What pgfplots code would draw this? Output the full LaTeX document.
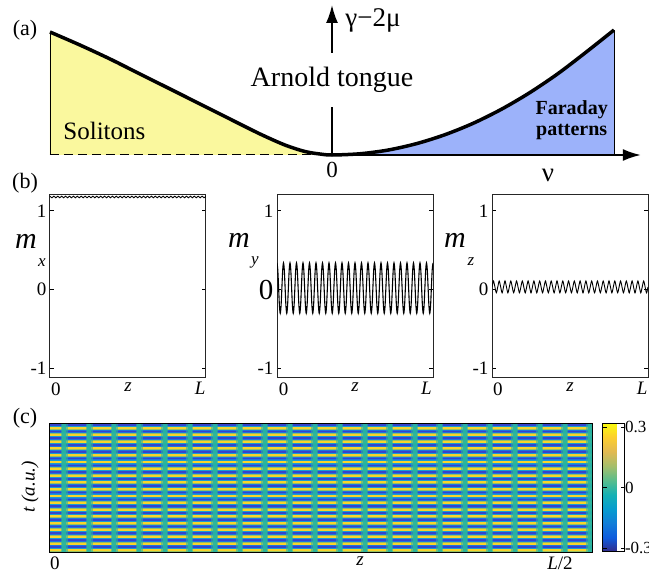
\documentclass[border=0pt]{standalone}
\usepackage{pgfplots}
\pgfplotsset{compat=1.18}
\usepackage{fontspec}
\setmainfont{Liberation Serif}
\usetikzlibrary{arrows.meta}

\newcommand\fs[1]{\fontsize{#1}{#1}\selectfont}

\definecolor{soliton}{RGB}{250,248,158}
\definecolor{faraday}{RGB}{156,178,250}
\definecolor{pyel}{RGB}{248,212,44}
\definecolor{pyeledge}{RGB}{150,192,100}
\definecolor{pblue}{RGB}{52,68,205}
\definecolor{pblueedge}{RGB}{30,115,225}
\definecolor{pback}{RGB}{24,155,212}
\definecolor{pgap}{RGB}{40,180,160}

\pgfplotsset{
  colormap={parula}{rgb255=(53,42,135) rgb255=(15,92,221) rgb255=(18,125,216)
    rgb255=(7,156,207) rgb255=(21,177,180) rgb255=(89,189,140) rgb255=(165,190,107)
    rgb255=(225,185,82) rgb255=(252,206,46) rgb255=(249,251,14)},
  mpanel/.style={
    scale only axis, width=156pt, height=183pt,
    ymin=-1.12, ymax=1.2,
    ytick={-1,0,1}, yticklabels={-1,0,1},
    tick align=inside, major tick length=4pt,
    xtick style={draw=none}, ytick style={black, line width=0.8pt},
    axis line style={black!85, line width=1pt},
    tick label style={font=\fs{19}},
    xticklabel style={yshift=-1pt},
  },
}

\begin{document}
\begin{tikzpicture}
\useasboundingbox (0pt,0pt) rectangle (649pt,-583pt);

% ---------- (a) ----------
\begin{axis}[at={(50pt,-155pt)}, anchor=south west, scale only axis,
  width=564pt, height=125pt, xmin=-1, xmax=1, ymin=0, ymax=1,
  axis lines=none, clip=false]
\addplot[fill=soliton, draw=none, smooth] coordinates {
  (-1,0.984) (-0.894,0.88) (-0.787,0.768) (-0.681,0.648) (-0.574,0.528)
  (-0.468,0.408) (-0.362,0.288) (-0.255,0.168) (-0.167,0.08) (-0.096,0.028)
  (-0.043,0.008) (0,0)} \closedcycle;
\addplot[fill=faraday, draw=none, smooth] coordinates {
  (0,0) (0.1,0.01) (0.2,0.04) (0.3,0.091) (0.4,0.162) (0.5,0.253)
  (0.6,0.365) (0.7,0.497) (0.8,0.649) (0.9,0.821) (1,1)} \closedcycle;
\addplot[black, line width=0.8pt] coordinates {(-1,0) (-1,0.984)};
\addplot[black, line width=0.8pt] coordinates {(1,0) (1,1)};
\addplot[black, line width=1pt, dash pattern=on 9pt off 5pt] coordinates {(-1,0) (0,0)};
\addplot[black, line width=1.8pt, -{Latex[length=18pt,width=12pt]}] coordinates {(0,0) (1.095,0)};
\addplot[black, line width=1.8pt] coordinates {(0,0) (0,0.384)};
\addplot[black, line width=1.8pt, -{Latex[length=18pt,width=12pt]}] coordinates {(0,0.816) (0,1.2)};
\addplot[black, line width=3.5pt, smooth] coordinates {
  (-1,0.984) (-0.894,0.88) (-0.787,0.768) (-0.681,0.648) (-0.574,0.528)
  (-0.468,0.408) (-0.362,0.288) (-0.255,0.168) (-0.167,0.08) (-0.096,0.028)
  (-0.043,0.008) (0,0)
  (0.1,0.01) (0.2,0.04) (0.3,0.091) (0.4,0.162) (0.5,0.253)
  (0.6,0.365) (0.7,0.497) (0.8,0.649) (0.9,0.821) (1,1)};
\node[font=\fs{28}] at (axis cs:0,0.6) {Arnold tongue};
\node[font=\fs{27}, anchor=west] at (axis cs:0.035,1.08) {γ−2μ};
\node[font=\fs{25}, anchor=west] at (axis cs:-0.965,0.19) {Solitons};
\node[font=\fs{20}\bfseries, align=center] at (axis cs:0.85,0.28) {Faraday\\[1pt]patterns};
\node[font=\fs{23}] at (axis cs:0,-0.12) {0};
\node[font=\fs{27}] at (axis cs:0.766,-0.16) {ν};
\end{axis}
\node[font=\fs{22}] at (25pt,-30pt) {(a)};

% ---------- (b) ----------
\node[font=\fs{22}] at (25pt,-183pt) {(b)};
\begin{axis}[mpanel, at={(50pt,-195pt)}, anchor=north west,
  xmin=0, xmax=80, xtick={3,40,77}, xticklabels={0,\textit{z},\textit{L}}]
\addplot[black, line width=0.9pt, smooth] coordinates {
  (0,1.185)(1,1.165)(2,1.185)(3,1.165)(4,1.185)(5,1.165)(6,1.185)(7,1.165)(8,1.185)(9,1.165)
  (10,1.185)(11,1.165)(12,1.185)(13,1.165)(14,1.185)(15,1.165)(16,1.185)(17,1.165)(18,1.185)(19,1.165)
  (20,1.185)(21,1.165)(22,1.185)(23,1.165)(24,1.185)(25,1.165)(26,1.185)(27,1.165)(28,1.185)(29,1.165)
  (30,1.185)(31,1.165)(32,1.185)(33,1.165)(34,1.185)(35,1.165)(36,1.185)(37,1.165)(38,1.185)(39,1.165)
  (40,1.185)(41,1.165)(42,1.185)(43,1.165)(44,1.185)(45,1.165)(46,1.185)(47,1.165)(48,1.185)(49,1.165)
  (50,1.185)(51,1.165)(52,1.185)(53,1.165)(54,1.185)(55,1.165)(56,1.185)(57,1.165)(58,1.185)(59,1.165)
  (60,1.185)(61,1.165)(62,1.185)(63,1.165)(64,1.185)(65,1.165)(66,1.185)(67,1.165)(68,1.185)(69,1.165)
  (70,1.185)(71,1.165)(72,1.185)(73,1.165)(74,1.185)(75,1.165)(76,1.185)(77,1.165)(78,1.185)(79,1.165)
  (80,1.185)};
\end{axis}
\node[font=\fs{30}\itshape] at (26pt,-241pt) {m};
\node[font=\fs{17}\itshape] at (42pt,-263pt) {x};

\begin{axis}[mpanel, at={(277pt,-195pt)}, anchor=north west,
  xmin=0, xmax=192, xtick={8,96,184}, xticklabels={0,\textit{z},\textit{L}},
  yticklabels={-1,{\fs{29}0},1}]
\addplot[black, line width=1.1pt, smooth] coordinates {
  (0,.34)(1,.246)(2,.02)(3,-.206)(4,-.3)(5,-.206)(6,.02)(7,.246)
  (8,.34)(9,.246)(10,.02)(11,-.206)(12,-.3)(13,-.206)(14,.02)(15,.246)
  (16,.34)(17,.246)(18,.02)(19,-.206)(20,-.3)(21,-.206)(22,.02)(23,.246)
  (24,.34)(25,.246)(26,.02)(27,-.206)(28,-.3)(29,-.206)(30,.02)(31,.246)
  (32,.34)(33,.246)(34,.02)(35,-.206)(36,-.3)(37,-.206)(38,.02)(39,.246)
  (40,.34)(41,.246)(42,.02)(43,-.206)(44,-.3)(45,-.206)(46,.02)(47,.246)
  (48,.34)(49,.246)(50,.02)(51,-.206)(52,-.3)(53,-.206)(54,.02)(55,.246)
  (56,.34)(57,.246)(58,.02)(59,-.206)(60,-.3)(61,-.206)(62,.02)(63,.246)
  (64,.34)(65,.246)(66,.02)(67,-.206)(68,-.3)(69,-.206)(70,.02)(71,.246)
  (72,.34)(73,.246)(74,.02)(75,-.206)(76,-.3)(77,-.206)(78,.02)(79,.246)
  (80,.34)(81,.246)(82,.02)(83,-.206)(84,-.3)(85,-.206)(86,.02)(87,.246)
  (88,.34)(89,.246)(90,.02)(91,-.206)(92,-.3)(93,-.206)(94,.02)(95,.246)
  (96,.34)(97,.246)(98,.02)(99,-.206)(100,-.3)(101,-.206)(102,.02)(103,.246)
  (104,.34)(105,.246)(106,.02)(107,-.206)(108,-.3)(109,-.206)(110,.02)(111,.246)
  (112,.34)(113,.246)(114,.02)(115,-.206)(116,-.3)(117,-.206)(118,.02)(119,.246)
  (120,.34)(121,.246)(122,.02)(123,-.206)(124,-.3)(125,-.206)(126,.02)(127,.246)
  (128,.34)(129,.246)(130,.02)(131,-.206)(132,-.3)(133,-.206)(134,.02)(135,.246)
  (136,.34)(137,.246)(138,.02)(139,-.206)(140,-.3)(141,-.206)(142,.02)(143,.246)
  (144,.34)(145,.246)(146,.02)(147,-.206)(148,-.3)(149,-.206)(150,.02)(151,.246)
  (152,.34)(153,.246)(154,.02)(155,-.206)(156,-.3)(157,-.206)(158,.02)(159,.246)
  (160,.34)(161,.246)(162,.02)(163,-.206)(164,-.3)(165,-.206)(166,.02)(167,.246)
  (168,.34)(169,.246)(170,.02)(171,-.206)(172,-.3)(173,-.206)(174,.02)(175,.246)
  (176,.34)(177,.246)(178,.02)(179,-.206)(180,-.3)(181,-.206)(182,.02)(183,.246)
  (184,.34)(185,.246)(186,.02)(187,-.206)(188,-.3)(189,-.206)(190,.02)(191,.246)
  (192,.34)};
\end{axis}
\node[font=\fs{30}\itshape] at (239pt,-240pt) {m};
\node[font=\fs{17}\itshape] at (255pt,-262pt) {y};

\begin{axis}[mpanel, at={(492pt,-195pt)}, anchor=north west,
  xmin=0, xmax=108, xtick={4,54,104}, xticklabels={0,\textit{z},\textit{L}}]
\addplot[black, line width=0.9pt, smooth] coordinates {
  (0,.035)(1,.11)(2,.035)(3,-.04)(4,.035)(5,.11)(6,.035)(7,-.04)(8,.035)(9,.11)(10,.035)(11,-.04)
  (12,.035)(13,.11)(14,.035)(15,-.04)(16,.035)(17,.11)(18,.035)(19,-.04)(20,.035)(21,.11)(22,.035)(23,-.04)
  (24,.035)(25,.11)(26,.035)(27,-.04)(28,.035)(29,.11)(30,.035)(31,-.04)(32,.035)(33,.11)(34,.035)(35,-.04)
  (36,.035)(37,.11)(38,.035)(39,-.04)(40,.035)(41,.11)(42,.035)(43,-.04)(44,.035)(45,.11)(46,.035)(47,-.04)
  (48,.035)(49,.11)(50,.035)(51,-.04)(52,.035)(53,.11)(54,.035)(55,-.04)(56,.035)(57,.11)(58,.035)(59,-.04)
  (60,.035)(61,.11)(62,.035)(63,-.04)(64,.035)(65,.11)(66,.035)(67,-.04)(68,.035)(69,.11)(70,.035)(71,-.04)
  (72,.035)(73,.11)(74,.035)(75,-.04)(76,.035)(77,.11)(78,.035)(79,-.04)(80,.035)(81,.11)(82,.035)(83,-.04)
  (84,.035)(85,.11)(86,.035)(87,-.04)(88,.035)(89,.11)(90,.035)(91,-.04)(92,.035)(93,.11)(94,.035)(95,-.04)
  (96,.035)(97,.11)(98,.035)(99,-.04)(100,.035)(101,.11)(102,.035)(103,-.04)(104,.035)(105,.11)(106,.035)(107,-.04)
  (108,.035)};
\end{axis}
\node[font=\fs{30}\itshape] at (455pt,-240pt) {m};
\node[font=\fs{17}\itshape] at (471pt,-262pt) {z};

% ---------- (c) ----------
\node[font=\fs{22}] at (25pt,-418pt) {(c)};
\begin{axis}[at={(50pt,-552pt)}, anchor=south west, scale only axis,
  width=542pt, height=129pt, xmin=0, xmax=21.68, ymin=0, ymax=19,
  axis on top, ytick=\empty,
  xtick={0.2,12.4,20.4}, xticklabels={0,\textit{z},\textit{L}/2},
  xtick style={draw=none}, xticklabel style={font=\fs{19}, yshift=-1pt},
  axis background/.style={fill=pback},
  axis line style={black, line width=1pt},
  colormap name=parula, colorbar,
  point meta min=-0.32, point meta max=0.32,
  colorbar style={scale only axis, width=22pt, height=129pt,
    at={(parent axis.north east)}, anchor=north west, xshift=2pt,
    ytick={-0.3,0,0.3}, yticklabels={-0.3,0,0.3},
    tick align=inside, major tick length=4pt,
    ytick style={black, line width=0.8pt},
    yticklabel style={font=\fs{17}, xshift=-3pt},
    axis line style={black, line width=1pt}},
]
% t-stripes (yellow / blue rows)
\addplot[xcomb, pyeledge, line width=2.9pt] coordinates {
  (21.68,0.25)(21.68,1.25)(21.68,2.25)(21.68,3.25)(21.68,4.25)(21.68,5.25)(21.68,6.25)
  (21.68,7.25)(21.68,8.25)(21.68,9.25)(21.68,10.25)(21.68,11.25)(21.68,12.25)
  (21.68,13.25)(21.68,14.25)(21.68,15.25)(21.68,16.25)(21.68,17.25)(21.68,18.25)};
\addplot[xcomb, pyel, line width=2pt] coordinates {
  (21.68,0.25)(21.68,1.25)(21.68,2.25)(21.68,3.25)(21.68,4.25)(21.68,5.25)(21.68,6.25)
  (21.68,7.25)(21.68,8.25)(21.68,9.25)(21.68,10.25)(21.68,11.25)(21.68,12.25)
  (21.68,13.25)(21.68,14.25)(21.68,15.25)(21.68,16.25)(21.68,17.25)(21.68,18.25)};
\addplot[xcomb, pblueedge, line width=2.9pt] coordinates {
  (21.68,0.75)(21.68,1.75)(21.68,2.75)(21.68,3.75)(21.68,4.75)(21.68,5.75)(21.68,6.75)
  (21.68,7.75)(21.68,8.75)(21.68,9.75)(21.68,10.75)(21.68,11.75)(21.68,12.75)
  (21.68,13.75)(21.68,14.75)(21.68,15.75)(21.68,16.75)(21.68,17.75)(21.68,18.75)};
\addplot[xcomb, pblue, line width=1.7pt] coordinates {
  (21.68,0.75)(21.68,1.75)(21.68,2.75)(21.68,3.75)(21.68,4.75)(21.68,5.75)(21.68,6.75)
  (21.68,7.75)(21.68,8.75)(21.68,9.75)(21.68,10.75)(21.68,11.75)(21.68,12.75)
  (21.68,13.75)(21.68,14.75)(21.68,15.75)(21.68,16.75)(21.68,17.75)(21.68,18.75)};
% z-gaps between the cells
\addplot[ycomb, pgap, opacity=0.6, line width=7pt] coordinates {
  (0.58,19)(1.58,19)(2.58,19)(3.58,19)(4.58,19)(5.58,19)(6.58,19)(7.58,19)(8.58,19)(9.58,19)(10.58,19)
  (11.58,19)(12.58,19)(13.58,19)(14.58,19)(15.58,19)(16.58,19)(17.58,19)(18.58,19)(19.58,19)(20.58,19)(21.58,19)};
\addplot[ycomb, pgap, opacity=0.9, line width=4pt] coordinates {
  (0.58,19)(1.58,19)(2.58,19)(3.58,19)(4.58,19)(5.58,19)(6.58,19)(7.58,19)(8.58,19)(9.58,19)(10.58,19)
  (11.58,19)(12.58,19)(13.58,19)(14.58,19)(15.58,19)(16.58,19)(17.58,19)(18.58,19)(19.58,19)(20.58,19)(21.58,19)};
\end{axis}
\node[font=\fs{19}\itshape, rotate=90] at (30pt,-487pt) {t (a.u.)};
\end{tikzpicture}
\end{document}
